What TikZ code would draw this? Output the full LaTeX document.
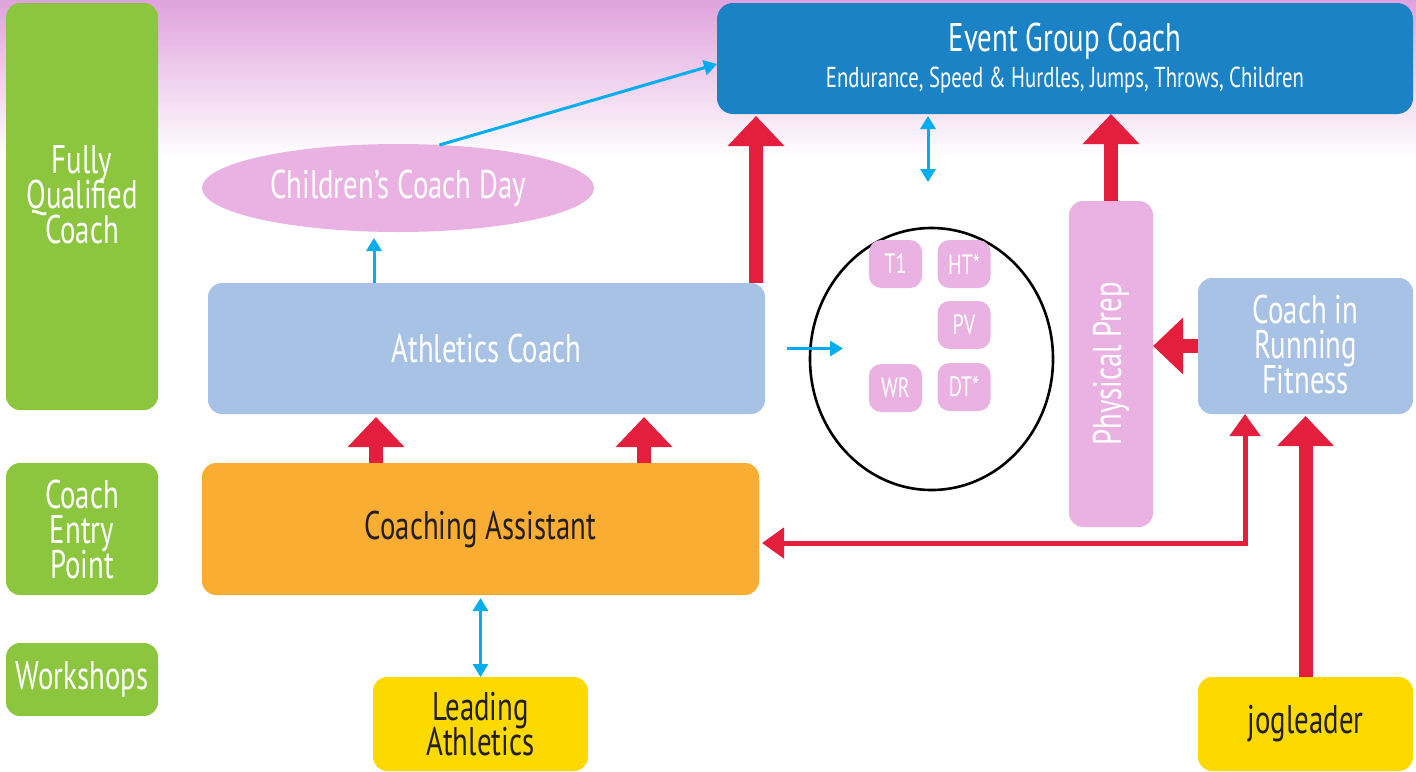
\documentclass[tikz,border=0pt]{standalone}
\usepackage{fontspec}
\setmainfont{PT Sans}[FakeStretch=0.72]
\usetikzlibrary{arrows.meta,calc,positioning,shapes.geometric}

\definecolor{skytop}{HTML}{E0A2DD}
\definecolor{stagegreen}{HTML}{8CC63F}
\definecolor{egcblue}{HTML}{1B83C5}
\definecolor{acblue}{HTML}{A8C2E5}
\definecolor{caorange}{HTML}{F9AE33}
\definecolor{feedyellow}{HTML}{FCDA00}
\definecolor{eventpink}{HTML}{EAB2E2}
\definecolor{routered}{HTML}{E41E3D}
\definecolor{linkblue}{HTML}{00ADEE}
\definecolor{darktext}{HTML}{231F20}

% big labels, lines packed tight
\newcommand\packedfont{\fontsize{20}{17.5}\selectfont\lineskiplimit -20pt\relax}

\begin{document}
\begin{tikzpicture}[x=0.5pt,y=-0.5pt,
    every node/.style={inner sep=0pt,outer sep=0pt,align=center,font=\packedfont},
    box/.style={rectangle,rounded corners=7pt,text=white},
    stage/.style={box,fill=stagegreen,minimum width=76pt},
    award/.style={box,minimum width=278.5pt},
    feeder/.style={box,fill=feedyellow,text=darktext,minimum width=107.5pt,minimum height=47pt},
    event/.style={box,fill=eventpink,rounded corners=6pt,minimum width=26.5pt,minimum height=24pt,
                  font=\fontsize{14}{16}\selectfont},
    route/.style={draw=routered,line width=7pt,-{Triangle[width=27.5pt,length=15pt]}},
    back route/.style={draw=routered,line width=2.5pt,
                       {Triangle[width=15pt,length=11pt]}-{Triangle[width=15pt,length=11pt]}},
    link/.style={draw=linkblue,line width=1.5pt,-{Triangle[width=7.5pt,length=6.5pt]}},
    link both/.style={link,{Triangle[width=7.5pt,length=6.5pt]}-{Triangle[width=7.5pt,length=6.5pt]}}]

  \useasboundingbox (0,0) rectangle (1416,771);
  \shade[top color=skytop,bottom color=white] (0,0) rectangle (1416,158);

  % levels down the left side
  \node[stage,minimum height=203.5pt] (fqc) at (82,206.5) {};
  \node[text=white] (fqc text) at (82,195) {Fully\\Qualified\\Coach};
  \node[stage,minimum height=66pt] (cep) at (82,529) {Coach\\Entry\\Point};
  \node[stage,minimum height=36.5pt] (ws) at (82,679.5) {Workshops};

  % awards
  \node[box,fill=egcblue,rounded corners=8pt,minimum width=348pt,minimum height=55.5pt] (egc) at (1065,58.5)
    {Event Group Coach\\[0.5pt]{\fontsize{14.4}{16}\selectfont Endurance, Speed \& Hurdles, Jumps, Throws, Children}};
  \node[ellipse,fill=eventpink,text=white,minimum width=196pt,minimum height=44pt] (ccd) at (398,188)
    {\raisebox{-1pt}{Children’s Coach Day}};
  \node[award,fill=acblue,minimum height=65.5pt] (ac) at (486.5,348.5) {Athletics Coach};
  \node[award,fill=caorange,text=darktext,minimum height=66pt] (ca) at (480.5,529) {\raisebox{-2pt}{Coaching Assistant}};
  \node[feeder] (la) at (480.5,724) {Leading\\Athletics};
  \node[feeder] (jl) at (1305.5,724) {\raisebox{-1pt}{jogleader}};
  \node[box,fill=acblue,minimum width=107.5pt,minimum height=68pt] (crf) at (1305.5,346) {};
  \node[text=white] (crf text) at (1305.5,344) {Coach in\\Running\\Fitness};
  \node[box,fill=eventpink,minimum width=42pt,minimum height=163pt] (pp) at (1111,364)
    {\rotatebox{90}{Physical Prep}};

  % event groups
  \node[ellipse,draw=black,line width=1.3pt,minimum width=121.5pt,minimum height=131pt] (disc) at (931.5,359) {};
  \node[event] (t1) at (895.5,264) {T1};
  \node[event] (ht) at (964,264) {HT*};
  \node[event] (pv) at (964,325) {PV};
  \node[event] (wr) at (895.5,388) {WR};
  \node[event] (dt) at (964,387) {DT*};

  \coordinate (gap) at (928,182);

  % blue links
  \draw[link] (ccd.46) -- ([yshift=-2.75pt]egc.west);
  \draw[link,shorten >=3pt] ([xshift=-56.25pt]ac.north) -- ([xshift=-12pt]ccd.south);
  \draw[link both] ([xshift=-68.5pt,yshift=-1pt]egc.south) -- (gap);
  \draw[link,shorten <=11pt] (ac.east) -- ($(ac.east -| disc.west)+(33,0)$);
  \draw[link both] ([yshift=-1.5pt]ca.south) -- (la.north);

  % red routes
  \draw[route] ([xshift=-4.5pt]ac.north east) -- ([xshift=19.5pt,yshift=-1pt]egc.south west);
  \draw[route] (pp.north) -- (pp.north |- egc.south);
  \draw[route] (crf.west) -- (crf.west -| pp.east);
  \draw[route] ([xshift=-52.25pt]ca.north) -- ([xshift=-55.25pt,yshift=-1.5pt]ac.south);
  \draw[route] ([xshift=81.75pt]ca.north) -- ([xshift=78.75pt,yshift=-1.5pt]ac.south);
  \draw[route] (jl.north) -- ([yshift=-1pt]crf.south);
  \draw[back route] ([xshift=-30.25pt]crf.south) |- ([xshift=1.5pt,yshift=-7pt]ca.east);

\end{tikzpicture}
\end{document}
